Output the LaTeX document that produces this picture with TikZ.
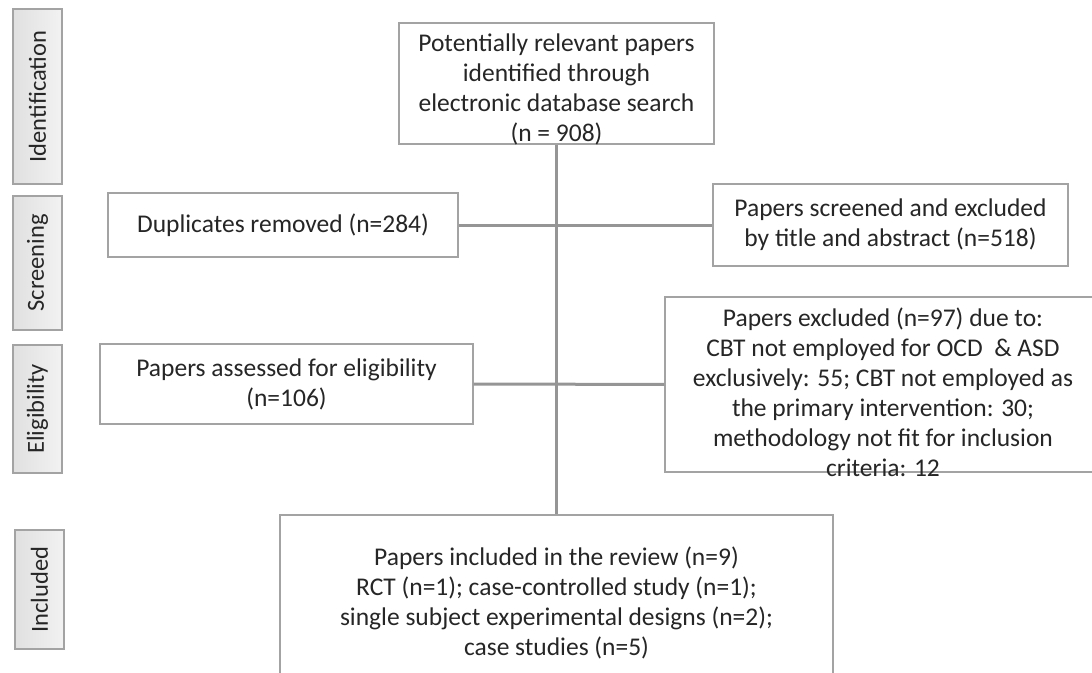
\documentclass[tikz,border=0pt]{standalone}
\usepackage{fontspec}
\setmainfont{Carlito}
\usepackage{tikz}
\usetikzlibrary{positioning}
\definecolor{BoxGrey}{HTML}{A3A3A3}
\definecolor{LineGrey}{HTML}{959595}
\definecolor{TextGrey}{HTML}{262626}
\definecolor{TabLight}{HTML}{F2F2F2}
\definecolor{TabDark}{HTML}{E0E0E0}

\begin{document}
\begin{tikzpicture}[
    x=1pt, y=-1pt,
    box/.style={
      rectangle, draw=BoxGrey, line width=1.2pt, fill=white,
      inner sep=0pt, align=center, text=TextGrey,
      font=\fontsize{25.5}{30}\selectfont
    },
    boxtext/.style={inner sep=0pt, align=center, text=TextGrey,
      font=\fontsize{25.5}{30}\selectfont},
    phase/.style={
      rectangle, draw=BoxGrey, line width=1.2pt,
      left color=TabDark, right color=TabLight,
      rotate=90, minimum height=49pt, inner sep=0pt,
      text=TextGrey, font=\fontsize{24.5}{28}\selectfont
    },
    link/.style={line width=3pt, LineGrey}
  ]
    \useasboundingbox (0,0) rectangle (1092,672);
    \clip (0,0) rectangle (1092,672);

    % phase tabs
    \node[phase, minimum width=175pt] (identification) at (37.5,96.5) {Identification};
    \node[phase, minimum width=134pt] (screening) at (37.5,263) {Screening};
    \node[phase, minimum width=128pt] (eligibility) at (37.5,409) {Eligibility};
    \node[phase, minimum width=119pt] (included) at (39.5,589.5) {Included};

    % flow boxes
    \node[box, minimum width=315pt, minimum height=121pt] (ident) at (556.5,83.5) {};
    \node[boxtext] (ident-txt) at ([yshift=-6pt]ident.center)
      {Potentially relevant papers\\identified through\\electronic database search\\(n = 908)};
    \node[box, minimum width=350pt, minimum height=64pt] (dup) at (283,225)
      {Duplicates removed (n=284)};
    \node[box, minimum width=355pt, minimum height=82pt] (scr) at (890.5,225)
      {Papers screened and excluded\\by title and abstract (n=518)};
    \node[box, minimum width=373pt, minimum height=80pt] (elig) at (286.5,384)
      {Papers assessed for eligibility\\(n=106)};
    \node[box, minimum width=436pt, minimum height=175pt] (excl) at (883,384.5) {};
    \node[boxtext] (excl-txt) at ([yshift=-8pt]excl.center)
      {Papers excluded (n=97) due to:\\CBT not employed for OCD~ \& ASD\\exclusively: 55; CBT not employed as\\the primary intervention: 30;\\methodology not fit for inclusion\\criteria: 12};
    \node[box, minimum width=553pt, minimum height=175pt] (incl) at (556.5,602.5)
      {Papers included in the review (n=9)\\RCT (n=1); case-controlled study (n=1);\\single subject experimental designs (n=2);\\case studies (n=5)};

    \draw[link] (ident) -- (incl);
    \draw[link] (dup) -- (scr);
    \draw[link] (elig) -- (excl);
  \end{tikzpicture}
\end{document}
